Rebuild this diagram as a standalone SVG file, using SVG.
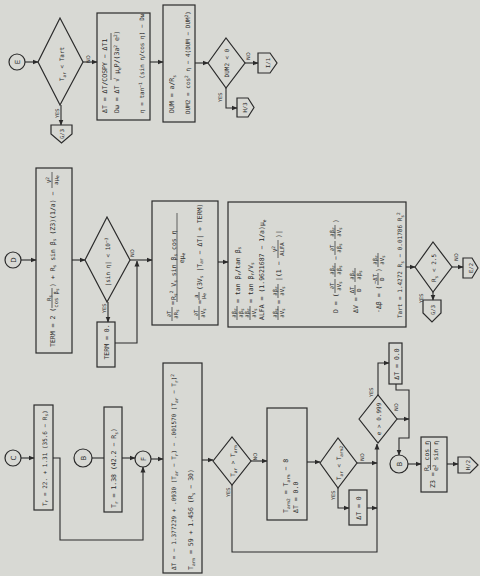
<svg xmlns="http://www.w3.org/2000/svg" width="480" height="576" viewBox="0 0 480 576">
<style>
.t{font-family:"DejaVu Sans Mono","Liberation Mono",monospace;font-size:6.5px;fill:#2b2b2b}
.f{font-size:5.5px}
.m{font-size:6px}
.b{font-size:4.5px}
.l{font-family:"DejaVu Sans","Liberation Sans",sans-serif;font-size:5px;fill:#2b2b2b}
.c{font-family:"DejaVu Sans","Liberation Sans",sans-serif;font-size:7px;fill:#2b2b2b}
.bx{fill:none;stroke:#2b2b2b;stroke-width:1.2}
.ln{fill:none;stroke:#2b2b2b;stroke-width:1.1}
.fb{stroke:#2b2b2b;stroke-width:0.7}
</style>
<defs>
<marker id="a" markerWidth="6" markerHeight="6" refX="5.5" refY="3" orient="auto" markerUnits="userSpaceOnUse"><path d="M0,0.5 L6,3 L0,5.5z" fill="#2b2b2b"/></marker>
</defs>
<rect width="480" height="576" fill="#d8d9d4"/>

<g id="connectors" class="ln">
<path d="M25,62H38" marker-end="url(#a)"/>
<path d="M61,105V125" marker-end="url(#a)"/>
<path d="M83,62H97" marker-end="url(#a)"/>
<path d="M150,62H163" marker-end="url(#a)"/>
<path d="M195,63H208" marker-end="url(#a)"/>
<path d="M245,63H258" marker-end="url(#a)"/>
<path d="M226,88V108H237" marker-end="url(#a)"/>
<path d="M21,260H36" marker-end="url(#a)"/>
<path d="M72,260H85" marker-end="url(#a)"/>
<path d="M108,302V322" marker-end="url(#a)"/>
<path d="M130,260H152" marker-end="url(#a)"/>
<path d="M115,343H137V261" marker-end="url(#a)"/>
<path d="M218,262H228" marker-end="url(#a)"/>
<path d="M406,267H415" marker-end="url(#a)"/>
<path d="M452,267H463" marker-end="url(#a)"/>
<path d="M433,292V300" marker-end="url(#a)"/>
<path d="M21,458H34" marker-end="url(#a)"/>
<path d="M53,458H60V540H143V467" marker-end="url(#a)"/>
<path d="M92,458H104"/>
<path d="M122,458H135" marker-end="url(#a)"/>
<path d="M151,459H163" marker-end="url(#a)"/>
<path d="M202,460H213" marker-end="url(#a)"/>
<path d="M251,461H267" marker-end="url(#a)"/>
<path d="M232,485V552H377V444" marker-end="url(#a)"/>
<path d="M307,462H320" marker-end="url(#a)"/>
<path d="M357,463H377" marker-end="url(#a)"/>
<path d="M338,488V508H349" marker-end="url(#a)"/>
<path d="M367,508H377" marker-end="url(#a)"/>
<path d="M378,395V363H389" marker-end="url(#a)"/>
<path d="M397,419H409" marker-end="url(#a)"/>
<path d="M396,384V390H409V438H399V455" marker-end="url(#a)"/>
<path d="M408,464H421" marker-end="url(#a)"/>
<path d="M447,464H458" marker-end="url(#a)"/>
</g>

<g id="labels">
<text class="l" transform="translate(90,63) rotate(-90)">NO</text>
<text class="l" transform="translate(59,118) rotate(-90)">YES</text>
<text class="l" transform="translate(250,60) rotate(-90)">NO</text>
<text class="l" transform="translate(222,102) rotate(-90)">YES</text>
<text class="l" transform="translate(134,257) rotate(-90)">NO</text>
<text class="l" transform="translate(105.5,313) rotate(-90)">YES</text>
<text class="l" transform="translate(458,261) rotate(-90)">NO</text>
<text class="l" transform="translate(423,303) rotate(-90)">YES</text>
<text class="l" transform="translate(257,460.5) rotate(-90)">NO</text>
<text class="l" transform="translate(230,497) rotate(-90)">YES</text>
<text class="l" transform="translate(364,461) rotate(-90)">NO</text>
<text class="l" transform="translate(335,500) rotate(-90)">YES</text>
<text class="l" transform="translate(373,397) rotate(-90)">YES</text>
<text class="l" transform="translate(398,411) rotate(-90)">NO</text>
</g>

<!-- Row 1 -->
<g id="nodeE"><circle class="bx" cx="17" cy="62" r="8"/><text class="c" text-anchor="middle" transform="translate(19.5,62) rotate(-90)">E</text></g>
<g id="decTart"><polygon class="bx" points="38,62 60,18 83,62 60,105"/>
<text class="t m" text-anchor="middle" transform="translate(64,64) rotate(-90)">T<tspan class="b" dy="1.6">ar</tspan><tspan dy="-1.6"> &lt; Tart</tspan></text></g>
<g id="offG3a"><polygon class="bx" points="51,125 72,125 72,134 61.5,143 51,134"/><text class="t f" text-anchor="middle" transform="translate(64,134) rotate(-90)">G/3</text></g>
<g id="boxDT"><rect class="bx" x="97" y="13" width="53" height="107"/>
<text class="t" transform="translate(107,113) rotate(-90)">ΔT = ΔT/COSPY − ΔT1</text>
<text class="t" transform="translate(119,113) rotate(-90)">Dω = ΔT √ μ<tspan class="b" dy="1.6">e</tspan><tspan dy="-1.6">P/(3a</tspan><tspan class="b" dy="-2.5">2</tspan><tspan dy="2.5"> e</tspan><tspan class="b" dy="-2.5">2</tspan><tspan dy="2.5">)</tspan></text>
<path class="fb" d="M111,80V33"/>
<text class="t m" transform="translate(144,113) rotate(-90)">η = tan<tspan class="b" dy="-2.5">−1</tspan><tspan dy="2.5"> (sin η/cos η) − Dω</tspan></text></g>
<g id="boxDUM"><rect class="bx" x="163" y="5" width="32" height="117"/>
<text class="t" transform="translate(174,113) rotate(-90)">DUM = a/R<tspan class="b" dy="1.6">s</tspan></text>
<text class="t m" transform="translate(190,114) rotate(-90)">DUM2 = cos<tspan class="b" dy="-2.5">2</tspan><tspan dy="2.5"> η − 4(DUM − DUM</tspan><tspan class="b" dy="-2.5">2</tspan><tspan dy="2.5">)</tspan></text></g>
<g id="decDUM2"><polygon class="bx" points="208,63 226,38 245,63 226,88"/><text class="t m" text-anchor="middle" transform="translate(229,63) rotate(-90)">DUM2 &lt; 0</text></g>
<g id="offI1"><polygon class="bx" points="258,53 270,53 277,63 270,73 258,73"/><text class="t f" text-anchor="middle" transform="translate(269.5,63) rotate(-90)">I/1</text></g>
<g id="offH3"><polygon class="bx" points="237,98 248,98 254,107.5 248,117 237,117"/><text class="t f" text-anchor="middle" transform="translate(247,107.5) rotate(-90)">H/3</text></g>

<!-- Row 2 -->
<g id="nodeD"><circle class="bx" cx="13" cy="260" r="8"/><text class="c" text-anchor="middle" transform="translate(15.5,260) rotate(-90)">D</text></g>
<g id="boxTERM"><rect class="bx" x="36" y="168" width="36" height="185"/>
<g transform="translate(52,0) rotate(-90)">
<text class="t" x="-347" y="2.5">TERM = 2 (</text>
<text class="t f" x="-298" y="-1.5" text-anchor="middle">R<tspan class="b" dy="1.4">s</tspan></text>
<line class="fb" x1="-308" y1="0" x2="-288" y2="0"/>
<text class="t f" x="-298" y="6" text-anchor="middle">cos β<tspan class="b" dy="1.4">s</tspan></text>
<text class="t" x="-287" y="2.5">) + R<tspan class="b" dy="1.6">s</tspan><tspan dy="-1.6"> sin β</tspan><tspan class="b" dy="1.6">s</tspan><tspan dy="-1.6"> (Z3)(1/a) −</tspan></text>
<text class="t f" x="-180" y="-1.5" text-anchor="middle">V<tspan class="b" dy="-2">2</tspan></text>
<line class="fb" x1="-188" y1="0" x2="-172" y2="0"/>
<text class="t f" x="-180" y="6" text-anchor="middle">aμ<tspan class="b" dy="1.4">e</tspan></text>
</g></g>
<g id="decSin"><polygon class="bx" points="85,260 107,217 130,260 107,302"/><text class="t m" text-anchor="middle" transform="translate(110,262) rotate(-90)">|sin η| &lt; 10<tspan class="b" dy="-2.5">−3</tspan></text></g>
<g id="boxTERM0"><rect class="bx" x="97" y="322" width="18" height="45"/><text class="t" text-anchor="middle" transform="translate(108.5,342) rotate(-90)">TERM = 0.</text></g>
<g id="boxPartials">
<rect class="bx" x="152" y="201" width="66" height="124"/>
<g transform="translate(172,0) rotate(-90)">
<text class="t f" x="-314" y="-1.5" text-anchor="middle">∂T</text>
<line class="fb" x1="-321" y1="0" x2="-307" y2="0"/>
<text class="t f" x="-314" y="6" text-anchor="middle">∂R<tspan class="b" dy="1.4">s</tspan></text>
<text class="t" x="-305" y="2.5">=</text>
</g>
<g transform="translate(177,0) rotate(-90)">
<text class="t" x="-300" y="-1.5">R<tspan class="b" dy="1.4">s</tspan><tspan class="b" dy="-3.6">2</tspan><tspan dy="2.2"> V</tspan><tspan class="b" dy="1.4">s</tspan><tspan dy="-1.4"> sin β</tspan><tspan class="b" dy="1.4">s</tspan><tspan dy="-1.4"> cos η</tspan></text>
<line class="fb" x1="-302" y1="0" x2="-213" y2="0"/>
<text class="t" x="-258" y="6.5" text-anchor="middle">eμ<tspan class="b" dy="1.4">e</tspan></text>
</g>
<g transform="translate(199,0) rotate(-90)">
<text class="t f" x="-313" y="-1.5" text-anchor="middle">∂T</text>
<line class="fb" x1="-320" y1="0" x2="-306" y2="0"/>
<text class="t f" x="-313" y="6" text-anchor="middle">∂V<tspan class="b" dy="1.4">s</tspan></text>
<text class="t" x="-304" y="2.5">=</text>
<text class="t f" x="-296" y="-1.5" text-anchor="middle">a</text>
<line class="fb" x1="-300" y1="0" x2="-292" y2="0"/>
<text class="t f" x="-296" y="6" text-anchor="middle">μ<tspan class="b" dy="1.4">e</tspan></text>
<text class="t" x="-290" y="2.5">(3V<tspan class="b" dy="1.6">s</tspan><tspan dy="-1.6"> |T</tspan><tspan class="b" dy="1.6">ar</tspan><tspan dy="-1.6"> − ΔT| + TERM)</tspan></text>
</g>
</g>
<g id="boxSolve">
<rect class="bx" x="228" y="202" width="178" height="125"/>
<g transform="translate(237,0) rotate(-90)">
<text class="t f" x="-313" y="-1.5" text-anchor="middle">∂β<tspan class="b" dy="1.4">r</tspan></text>
<line class="fb" x1="-320" y1="0" x2="-306" y2="0"/>
<text class="t f" x="-313" y="6" text-anchor="middle">∂β<tspan class="b" dy="1.4">s</tspan></text>
<text class="t" x="-303" y="2.5">= tan β<tspan class="b" dy="1.6">r</tspan><tspan dy="-1.6">/tan β</tspan><tspan class="b" dy="1.6">s</tspan></text>
</g>
<g transform="translate(250,0) rotate(-90)">
<text class="t f" x="-313" y="-1.5" text-anchor="middle">∂β<tspan class="b" dy="1.4">r</tspan></text>
<line class="fb" x1="-320" y1="0" x2="-306" y2="0"/>
<text class="t f" x="-313" y="6" text-anchor="middle">∂V<tspan class="b" dy="1.4">s</tspan></text>
<text class="t" x="-303" y="2.5">= tan β<tspan class="b" dy="1.6">r</tspan><tspan dy="-1.6">/V</tspan><tspan class="b" dy="1.6">s</tspan></text>
</g>
<text class="t" transform="translate(264,320) rotate(-90)">ALFA = (1.9621687 − 1/a)μ<tspan class="b" dy="1.6">e</tspan></text>
<g transform="translate(278,0) rotate(-90)">
<text class="t f" x="-313" y="-1.5" text-anchor="middle">∂β<tspan class="b" dy="1.4">s</tspan></text>
<line class="fb" x1="-320" y1="0" x2="-306" y2="0"/>
<text class="t f" x="-313" y="6" text-anchor="middle">∂V<tspan class="b" dy="1.4">s</tspan></text>
<text class="t" x="-304" y="2.5">=</text>
<text class="t f" x="-291" y="-1.5" text-anchor="middle">∂β<tspan class="b" dy="1.4">r</tspan></text>
<line class="fb" x1="-298" y1="0" x2="-284" y2="0"/>
<text class="t f" x="-291" y="6" text-anchor="middle">∂V<tspan class="b" dy="1.4">s</tspan></text>
<text class="t" x="-281" y="2.5">|(1 −</text>
<text class="t f" x="-249" y="-1.5" text-anchor="middle">V<tspan class="b" dy="-2">2</tspan></text>
<line class="fb" x1="-258" y1="0" x2="-240" y2="0"/>
<text class="t f" x="-249" y="6" text-anchor="middle">ALFA</text>
<text class="t" x="-238" y="2.5">)|</text>
</g>
<g transform="translate(335,0) rotate(-90)">
<text class="t" x="-313" y="2.5">D = (</text>
<text class="t f" x="-286" y="-1.5" text-anchor="middle">∂T</text>
<line class="fb" x1="-293" y1="0" x2="-279" y2="0"/>
<text class="t f" x="-286" y="6" text-anchor="middle">∂V<tspan class="b" dy="1.4">s</tspan></text>
<text class="t f" x="-270" y="-1.5" text-anchor="middle">∂β<tspan class="b" dy="1.4">r</tspan></text>
<line class="fb" x1="-277" y1="0" x2="-263" y2="0"/>
<text class="t f" x="-270" y="6" text-anchor="middle">∂β<tspan class="b" dy="1.4">s</tspan></text>
<text class="t" x="-260" y="2.5">−</text>
<text class="t f" x="-248" y="-1.5" text-anchor="middle">∂T</text>
<line class="fb" x1="-255" y1="0" x2="-241" y2="0"/>
<text class="t f" x="-248" y="6" text-anchor="middle">∂β<tspan class="b" dy="1.4">s</tspan></text>
<text class="t f" x="-232" y="-1.5" text-anchor="middle">∂β<tspan class="b" dy="1.4">r</tspan></text>
<line class="fb" x1="-239" y1="0" x2="-225" y2="0"/>
<text class="t f" x="-232" y="6" text-anchor="middle">∂V<tspan class="b" dy="1.4">s</tspan></text>
<text class="t" x="-223" y="2.5">)</text>
</g>
<g transform="translate(355,0) rotate(-90)">
<text class="t" x="-313" y="2.5">ΔV =</text>
<text class="t f" x="-290" y="-1.5" text-anchor="middle">ΔT</text>
<line class="fb" x1="-295" y1="0" x2="-285" y2="0"/>
<text class="t f" x="-290" y="6" text-anchor="middle">D</text>
<text class="t f" x="-275" y="-1.5" text-anchor="middle">∂β<tspan class="b" dy="1.4">r</tspan></text>
<line class="fb" x1="-282" y1="0" x2="-268" y2="0"/>
<text class="t f" x="-275" y="6" text-anchor="middle">∂β<tspan class="b" dy="1.4">s</tspan></text>
</g>
<g transform="translate(378,0) rotate(-90)">
<text class="t" x="-313" y="2.5">·Δβ = (</text>
<text class="t f" x="-279" y="-1.5" text-anchor="middle">−ΔT</text>
<line class="fb" x1="-285" y1="0" x2="-273" y2="0"/>
<text class="t f" x="-279" y="6" text-anchor="middle">D</text>
<text class="t" x="-272" y="2.5">)</text>
<text class="t f" x="-260" y="-1.5" text-anchor="middle">∂β<tspan class="b" dy="1.4">r</tspan></text>
<line class="fb" x1="-267" y1="0" x2="-253" y2="0"/>
<text class="t f" x="-260" y="6" text-anchor="middle">∂V<tspan class="b" dy="1.4">s</tspan></text>
</g>
<text class="t m" transform="translate(402,318) rotate(-90)">Tart = 1.4272 R<tspan class="b" dy="1.6">s</tspan><tspan dy="-1.6"> − 0.01786 R</tspan><tspan class="b" dy="1.6">s</tspan><tspan class="b" dy="-4">2</tspan></text>
</g>
<g id="decRs"><polygon class="bx" points="415,267 433,242 452,267 433,292"/><text class="t m" text-anchor="middle" transform="translate(436,268) rotate(-90)">R<tspan class="b" dy="1.6">s</tspan><tspan dy="-1.6"> &lt; 2.5</tspan></text></g>
<g id="offE2"><polygon class="bx" points="463,258 472,258 478,268 472,278 463,278"/><text class="t f" text-anchor="middle" transform="translate(472.5,268) rotate(-90)">E/2</text></g>
<g id="offG3b"><polygon class="bx" points="423,300 441,300 441,313 432,322 423,313"/><text class="t f" text-anchor="middle" transform="translate(434.5,310) rotate(-90)">G/3</text></g>

<!-- Row 3 -->
<g id="nodeC"><circle class="bx" cx="13" cy="458" r="8"/><text class="c" text-anchor="middle" transform="translate(15.5,458) rotate(-90)">C</text></g>
<g id="boxTr1"><rect class="bx" x="34" y="405" width="19" height="105"/><text class="t m" transform="translate(46.5,506) rotate(-90)">T<tspan class="b" dy="1.6">r</tspan><tspan dy="-1.6"> = 22. + 1.31 (35.6 − R</tspan><tspan class="b" dy="1.6">s</tspan><tspan dy="-1.6">)</tspan></text></g>
<g id="nodeB1"><circle class="bx" cx="83" cy="458" r="9"/><text class="c" text-anchor="middle" transform="translate(85.5,458) rotate(-90)">B</text></g>
<g id="boxTr2"><rect class="bx" x="104" y="407" width="18" height="105"/><text class="t" transform="translate(116,508) rotate(-90)">T<tspan class="b" dy="1.6">r</tspan><tspan dy="-1.6"> = 1.38 (42.2 − R</tspan><tspan class="b" dy="1.6">s</tspan><tspan dy="-1.6">)</tspan></text></g>
<g id="nodeF"><circle class="bx" cx="143" cy="459" r="8"/><text class="c" text-anchor="middle" transform="translate(145.5,459) rotate(-90)">F</text></g>
<g id="boxDT2"><rect class="bx" x="163" y="363" width="39" height="210"/>
<text class="t m" transform="translate(176,570) rotate(-90)">ΔT = − 1.377229 + .0930 (T<tspan class="b" dy="1.6">ar</tspan><tspan dy="-1.6"> − T</tspan><tspan class="b" dy="1.6">r</tspan><tspan dy="-1.6">) − .001570 (T</tspan><tspan class="b" dy="1.6">ar</tspan><tspan dy="-1.6"> − T</tspan><tspan class="b" dy="1.6">r</tspan><tspan dy="-1.6">)</tspan><tspan class="b" dy="-2.5">2</tspan></text>
<text class="t" transform="translate(193,570) rotate(-90)">T<tspan class="b" dy="1.6">arm</tspan><tspan dy="-1.6"> = 59 + 1.456 (R</tspan><tspan class="b" dy="1.6">s</tspan><tspan dy="-1.6"> − 30)</tspan></text></g>
<g id="decTarm"><polygon class="bx" points="213,461 232,437 251,461 232,485"/><text class="t m" text-anchor="middle" transform="translate(235,461) rotate(-90)">T<tspan class="b" dy="1.6">ar</tspan><tspan dy="-1.6"> &gt; T</tspan><tspan class="b" dy="1.6">arm</tspan></text></g>
<g id="boxTarm2"><rect class="bx" x="267" y="408" width="40" height="112"/>
<text class="t" transform="translate(288,513) rotate(-90)">T<tspan class="b" dy="1.6">arm2</tspan><tspan dy="-1.6"> = T</tspan><tspan class="b" dy="1.6">arm</tspan><tspan dy="-1.6"> − 8</tspan></text>
<text class="t" transform="translate(297.5,513) rotate(-90)">ΔT = 0.0</text></g>
<g id="decTarm2"><polygon class="bx" points="320,463 338,438 357,463 338,488"/><text class="t m" text-anchor="middle" transform="translate(341,463) rotate(-90)">T<tspan class="b" dy="1.6">ar</tspan><tspan dy="-1.6"> &lt; T</tspan><tspan class="b" dy="1.6">arm2</tspan></text></g>
<g id="boxDT0"><rect class="bx" x="349" y="490" width="18" height="35"/><text class="t" text-anchor="middle" transform="translate(360.5,508) rotate(-90)">ΔT = 0</text></g>
<g id="decE"><polygon class="bx" points="359,419 378,395 397,419 378,443"/><text class="t m" text-anchor="middle" transform="translate(381,419) rotate(-90)">e &gt; 0.999</text></g>
<g id="boxDT00"><rect class="bx" x="389" y="343" width="13" height="41"/><text class="t" text-anchor="middle" transform="translate(398.5,364) rotate(-90)">ΔT = 0.0</text></g>
<g id="nodeB2"><circle class="bx" cx="399" cy="464" r="9"/><text class="c" text-anchor="middle" transform="translate(401.5,464) rotate(-90)">B</text></g>
<g id="boxZ3"><rect class="bx" x="421" y="437" width="26" height="55"/>
<g transform="translate(430.5,0) rotate(-90)">
<text class="t" x="-488" y="4.5">Z3 =</text>
<text class="t" x="-456" y="-1.5" text-anchor="middle">R<tspan class="b" dy="1.4">s</tspan><tspan dy="-1.4"> cos η</tspan></text>
<line class="fb" x1="-470" y1="0" x2="-442" y2="0"/>
<text class="t" x="-456" y="7.5" text-anchor="middle">e<tspan class="b" dy="-2.5">2</tspan><tspan dy="2.5"> sin η</tspan></text>
</g></g>
<g id="offH2"><polygon class="bx" points="458,457 470,457 478,465 470,473 458,473"/><text class="t f" text-anchor="middle" transform="translate(470,465) rotate(-90)">H/2</text></g>
</svg>
